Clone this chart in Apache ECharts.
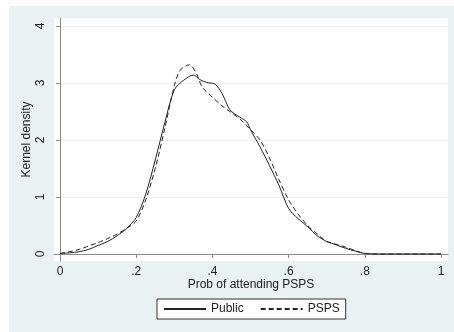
<!DOCTYPE html>
<html>
<head>
<meta charset="utf-8">
<script src="https://cdn.jsdelivr.net/npm/echarts@6/dist/echarts.min.js"></script>
<style>
  html, body { margin: 0; padding: 0; background: #fff; }
  #chart { width: 454px; height: 332px; }
</style>
</head>
<body>
<div id="chart"></div>
<script>
// kernel density estimates
const publicX = [0, 0.025, 0.05, 0.075, 0.1, 0.125, 0.15, 0.175, 0.2, 0.225, 0.25, 0.275, 0.3, 0.325, 0.35, 0.367, 0.385, 0.407, 0.425, 0.446, 0.472, 0.49, 0.5, 0.525, 0.55, 0.575, 0.6, 0.625, 0.65, 0.675, 0.7, 0.725, 0.75, 0.775, 0.8, 0.85, 0.9, 0.95, 1]
const publicY = [0.01, 0.02, 0.04, 0.08, 0.15, 0.22, 0.32, 0.45, 0.64, 1.05, 1.65, 2.3, 2.88, 3.05, 3.14, 3.06, 3.01, 2.98, 2.82, 2.53, 2.4, 2.32, 2.18, 1.88, 1.55, 1.2, 0.8, 0.62, 0.48, 0.32, 0.22, 0.16, 0.1, 0.05, 0.01, 0, 0, 0, 0]
const pspsX = [0, 0.025, 0.05, 0.075, 0.1, 0.125, 0.15, 0.175, 0.2, 0.225, 0.25, 0.275, 0.3, 0.315, 0.34, 0.36, 0.373, 0.4, 0.425, 0.45, 0.475, 0.5, 0.525, 0.55, 0.575, 0.6, 0.625, 0.65, 0.675, 0.7, 0.725, 0.75, 0.775, 0.8, 0.85, 0.9, 0.95, 1]
const pspsY = [0.01, 0.04, 0.08, 0.14, 0.2, 0.27, 0.35, 0.45, 0.58, 0.95, 1.5, 2.2, 2.95, 3.22, 3.32, 3.14, 2.93, 2.75, 2.6, 2.48, 2.35, 2.18, 2.0, 1.68, 1.3, 0.95, 0.7, 0.5, 0.35, 0.22, 0.17, 0.12, 0.06, 0.01, 0, 0, 0, 0]
const xTicks = [0, 0.2, 0.4, 0.6, 0.8, 1]
const yTicks = [0, 1, 2, 3, 4]

const pairs = (xs, ys) => xs.map((x, i) => [x, ys[i]])
const fmtX = v => (v === 0 || v === 1) ? String(v) : String(+v.toFixed(1)).replace(/^0/, '')

const chart = echarts.init(document.getElementById('chart'))
const font = 'Liberation Sans, Arial, sans-serif'

chart.setOption({
  animation: false,
  backgroundColor: '#fff',
  graphic: [
    { type: 'rect', z: -10, shape: { x: 9, y: 6, width: 445, height: 326 }, style: { fill: '#e9f1f3' } },
    { type: 'rect', z: -9, shape: { x: 54, y: 18, width: 394, height: 243 }, style: { fill: '#fff' } }
  ],
  grid: { left: 54, right: 6, top: 18, bottom: 71 },
  xAxis: {
    type: 'value',
    min: -6 / 381,
    max: 1 + 7 / 381,
    name: 'Prob of attending PSPS',
    nameLocation: 'middle',
    nameGap: 18,
    nameMoveOverlap: false,
    nameTextStyle: { fontFamily: font, fontSize: 12, color: '#222' },
    axisLine: { show: true, lineStyle: { color: '#8a8a8a', width: 1 } },
    axisTick: { show: true, customValues: xTicks, length: 4, lineStyle: { color: '#8a8a8a' } },
    axisLabel: { customValues: xTicks, formatter: fmtX, fontFamily: font, fontSize: 12, color: '#222', margin: 5 },
    splitLine: { show: false }
  },
  yAxis: {
    type: 'value',
    min: -7 / 57,
    max: 4 + 8 / 57,
    name: 'Kernel density',
    nameLocation: 'middle',
    nameGap: 21,
    nameMoveOverlap: false,
    nameRotate: 90,
    nameTextStyle: { fontFamily: font, fontSize: 12, color: '#222' },
    axisLine: { show: true, lineStyle: { color: '#8a8a8a', width: 1 } },
    axisTick: { show: true, customValues: yTicks, length: 4, lineStyle: { color: '#8a8a8a' } },
    axisLabel: { customValues: yTicks, rotate: 90, fontFamily: font, fontSize: 12, color: '#222', margin: 7 },
    splitLine: { show: true, lineStyle: { color: '#eaf2f3', width: 1 } }
  },
  legend: {
    left: 157,
    top: 299,
    padding: [4, 6, 4, 6],
    itemWidth: 42,
    itemHeight: 10,
    itemGap: 16,
    backgroundColor: '#fff',
    borderColor: '#333',
    borderWidth: 1,
    borderRadius: 0,
    itemStyle: { color: 'rgba(0,0,0,0)', borderWidth: 0 },
    textStyle: { fontFamily: font, fontSize: 12, color: '#222' },
    data: ['Public', 'PSPS']
  },
  series: [
    {
      name: 'Public',
      type: 'line',
      data: pairs(publicX, publicY),
      smooth: 0.3,
      symbol: 'none',
      lineStyle: { color: '#222', width: 1 },
      itemStyle: { color: '#222' }
    },
    {
      name: 'PSPS',
      type: 'line',
      data: pairs(pspsX, pspsY),
      smooth: 0.3,
      symbol: 'none',
      lineStyle: { color: '#222', width: 1, type: [5, 3] },
      itemStyle: { color: '#222' }
    }
  ]
})
</script>
</body>
</html>
